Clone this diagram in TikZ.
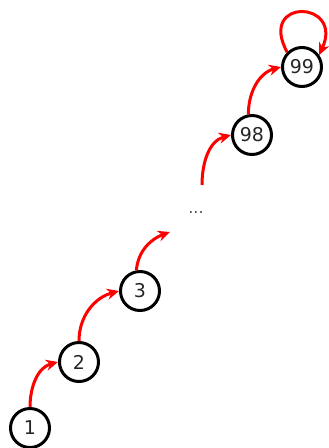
\documentclass[tikz,border=0pt]{standalone}
\usepackage{fontspec}
\setmainfont{DejaVu Sans}
\usetikzlibrary{arrows.meta}
\begin{document}
\begin{tikzpicture}[x=1pt,y=-1pt,
  state/.style={circle,draw=black,line width=3pt,minimum size=39pt,inner sep=0pt,font=\fontsize{19}{19}\selectfont,text=black!85},
  trans/.style={draw=red,line width=3pt,-{Stealth[length=12pt,width=11pt]}}]
\useasboundingbox (0,0) rectangle (329,448);
\node[state] (n1) at (30,428) {1};
\node[state] (n2) at (79,362) {2};
\node[state] (n3) at (140,291) {3};
\node[font=\fontsize{16}{16}\selectfont,text=black!70] (dots) at (196,213) {...};
\node[state] (n98) at (252,135) {98};
\node[state] (n99) at (302,67) {99};
\coordinate (d1) at (202,185);
\coordinate (d0) at (170,232);
\draw[trans] (n1.90) to[out=90,in=195] (n2.180);
\draw[trans] (n2.90) to[out=90,in=195] (n3.180);
\draw[trans] (n3.100) to[out=85,in=200] (d0);
\draw[trans] (d1) to[out=90,in=195] (n98.180);
\draw[trans] (n98.100) to[out=90,in=195] (n99.180);
\draw[trans] (n99.135) .. controls +(-30,-55) and +(25,-55) .. (n99.35);
\end{tikzpicture}
\end{document}
